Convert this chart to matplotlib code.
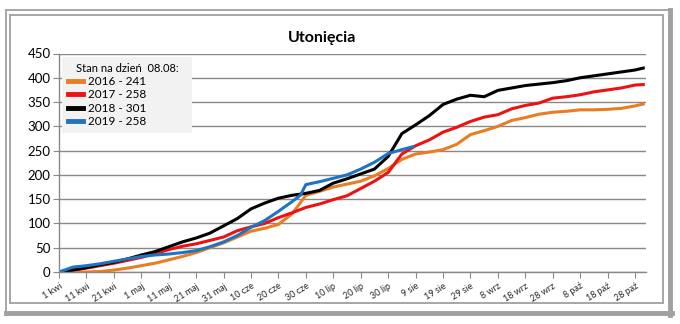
import matplotlib
matplotlib.use("Agg")
import matplotlib.pyplot as plt
from matplotlib.lines import Line2D
import datetime as dt

plt.rcParams['font.family'] = ['Lato', 'DejaVu Sans']

# days counted from 1 April
days = [0, 5, 10, 15, 20, 25, 30, 35, 40, 45, 50, 55, 60, 65, 70, 75, 80, 85, 90,
        95, 100, 105, 110, 115, 120, 125, 130, 135, 140, 145, 150, 155, 160, 165,
        170, 175, 180, 185, 190, 195, 200, 205, 210, 213]

y2016 = [0, 0, 0, 1, 4, 8, 13, 18, 25, 32, 40, 50, 60, 72, 84, 90, 98, 120, 158,
         166, 175, 181, 187, 198, 213, 232, 243, 247, 252, 263, 283, 291, 300, 312,
         318, 325, 329, 331, 334, 334, 335, 337, 342, 346]
y2017 = [0, 4, 8, 13, 18, 24, 30, 38, 46, 53, 58, 65, 72, 85, 93, 100, 112, 122, 133,
         140, 149, 157, 172, 187, 205, 243, 260, 272, 288, 298, 310, 319, 324, 336,
         343, 348, 358, 361, 365, 371, 375, 379, 385, 386]
y2018 = [0, 4, 9, 15, 20, 27, 35, 42, 52, 62, 70, 80, 95, 110, 130, 142, 152, 158, 162,
         168, 183, 192, 202, 212, 238, 285, 303, 322, 345, 356, 364, 361, 374, 379,
         384, 387, 390, 394, 400, 404, 408, 412, 416, 420]

days2019 = [0, 5, 10, 15, 20, 25, 30, 35, 40, 45, 50, 55, 60, 65, 70, 75, 80, 85, 88,
            90, 95, 100, 105, 110, 115, 120, 125, 129]
y2019 = [0, 10, 13, 17, 22, 27, 32, 35, 37, 40, 44, 52, 62, 75, 92, 106, 125, 145, 158,
         180, 186, 193, 200, 212, 226, 244, 252, 258]

labels = ["2016 - 241", "2017 - 258", "2018 - 301", "2019 - 258"]
colors = ["#E87D23", "#EE1111", "#000000", "#1F74C2"]
months = ["kwi", "maj", "cze", "lip", "sie", "wrz", "paź"]

start = dt.date(2019, 4, 1)
tick_days = list(range(0, 211, 10))
tick_labels = []
for d in tick_days:
    t = start + dt.timedelta(days=d)
    tick_labels.append(f"{t.day} {months[t.month - 4]}")

W, H = 680, 324
fig = plt.figure(figsize=(W / 100, H / 100), dpi=100)
fig.patch.set_facecolor("white")


def fx(px):
    return px / W


def fy(py):
    return 1 - py / H


# window-like frame
gray = "#a6a6a6"
for (x0, y0, x1, y1) in [(6, 10, 672, 10), (6, 10, 6, 315), (10, 15, 663, 15),
                         (10, 15, 10, 303), (10, 303, 663, 303), (663, 15, 663, 303)]:
    fig.add_artist(Line2D([fx(x0), fx(x1)], [fy(y0), fy(y1)], color=gray, lw=1.4))
fig.add_artist(Line2D([fx(670), fx(670)], [fy(10), fy(315)], color="#a0a0a0", lw=3.5))
fig.add_artist(Line2D([fx(6), fx(672)], [fy(312.5), fy(312.5)], color="#a0a0a0", lw=3.5))

ax = fig.add_axes([fx(59), fy(272), fx(646) - fx(59), fy(53.5) - fy(272)])
ax.set_facecolor("white")

series = [(days, y2016), (days, y2017), (days, y2018), (days2019, y2019)]
for (xs, ys), lab, c in zip(series, labels, colors):
    ax.plot(xs, ys, color=c, lw=2.2, label=lab, solid_joinstyle="round")

ax.set_xlim(0, 214)
ax.set_ylim(0, 450)
ax.set_yticks(range(0, 451, 50))
ax.yaxis.grid(True, color="#888888", lw=1.0)
ax.set_axisbelow(True)
ax.set_xticks(tick_days)
ax.set_xticklabels(tick_labels, rotation=32, ha="right", rotation_mode="anchor",
                   fontsize=6.5, color="#262626")
ax.tick_params(axis="x", direction="out", length=4, color="#888888", pad=3)
ax.tick_params(axis="y", direction="out", length=4, color="#888888", labelsize=9.5,
               labelcolor="#000000", pad=2)
for s in ["top", "right"]:
    ax.spines[s].set_visible(False)
for s in ["left", "bottom"]:
    ax.spines[s].set_color("#888888")
    ax.spines[s].set_linewidth(1.0)

leg = ax.legend(loc="upper left", bbox_to_anchor=(0.005, 0.5, 0.2215, 0.485),
                mode="expand", borderaxespad=0,
                title="Stan na dzień  08.08:", fontsize=8.5, title_fontsize=8,
                frameon=True, facecolor="#f2f2f2", edgecolor="none", fancybox=False,
                handlelength=1.3, handletextpad=0.4, labelspacing=0.2,
                borderpad=0.5)
leg.get_frame().set_alpha(1)
for line in leg.get_lines():
    line.set_linewidth(3.5)

fig.text(fx(322), fy(38), "Utonięcia", ha="center", va="center", fontsize=11.5,
         fontweight="bold", color="#000000")

fig.savefig("out.png", dpi=100)
